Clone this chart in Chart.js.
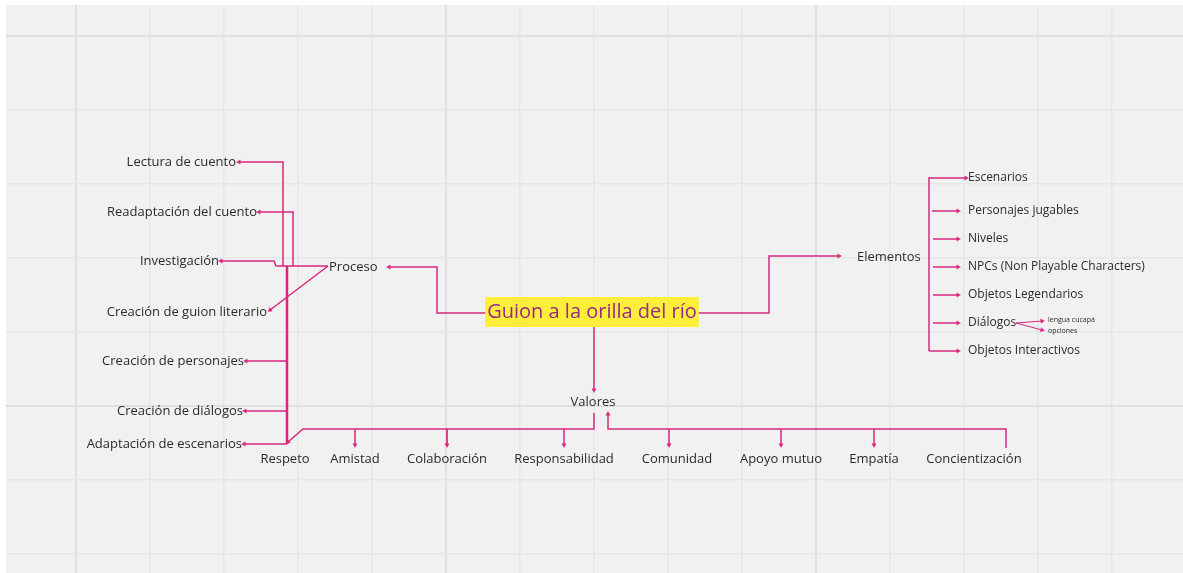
<!DOCTYPE html>
<html>
<head>
<meta charset="utf-8">
<script src="https://cdn.jsdelivr.net/npm/chart.js@4.4.1/dist/chart.umd.min.js"></script>
<style>
  html, body { margin: 0; padding: 0; background: #ffffff; }
  canvas { display: block; }
</style>
</head>
<body>
<canvas id="mapa" width="1183" height="573"></canvas>
<script>
// nodo central
const titulo = 'Guion a la orilla del río';
const tituloPos = [592, 312];

// ramas principales
const ramas = ['Proceso', 'Elementos', 'Valores'];
const ramasX = [329, 857, 593];
const ramasY = [267, 257, 402];
const ramasAlign = ['left', 'left', 'center'];

// Proceso (texto alineado a la derecha)
const procesoItems = ['Lectura de cuento', 'Readaptación del cuento', 'Investigación', 'Creación de guion literario', 'Creación de personajes', 'Creación de diálogos', 'Adaptación de escenarios'];
const procesoX = [236, 257, 219, 267, 244, 243, 242];
const procesoY = [162, 212, 261, 312, 361, 411, 444];

// Elementos
const elementosItems = ['Escenarios', 'Personajes jugables', 'Niveles', 'NPCs (Non Playable Characters)', 'Objetos Legendarios', 'Diálogos', 'Objetos Interactivos'];
const elementosX = 968;
const elementosY = [178, 211, 239, 267, 295, 323, 351];
const dialogosSub = ['lengua cucapá', 'opciones'];
const dialogosSubY = [320, 331];

// Valores
const valoresItems = ['Respeto', 'Amistad', 'Colaboración', 'Responsabilidad', 'Comunidad', 'Apoyo mutuo', 'Empatía', 'Concientización'];
const valoresX = [285, 355, 447, 564, 677, 781, 874, 974];
const valoresY = 459;

// conectores: [puntos, flecha al final, grosor]
const conectores = [
  [[[487, 313], [437, 313], [437, 267], [389, 267]], true, 1.5],
  [[[698, 313], [769, 313], [769, 256], [839, 256]], true, 1.5],
  [[[594, 327], [594, 390]], true, 1.5],
  // proceso
  [[[328, 266], [276, 266], [274, 261], [221, 261]], true, 1.5],
  [[[283, 266], [283, 162], [239, 162]], true, 1.5],
  [[[293, 266], [293, 212], [259, 212]], true, 1.5],
  [[[328, 266], [270, 310]], true, 1.5],
  [[[287, 266], [287, 444]], false, 2.5],
  [[[287, 361], [246, 361]], true, 1.5],
  [[[287, 411], [245, 411]], true, 1.5],
  [[[287, 444], [244, 444]], true, 1.5],
  // valores
  [[[594, 413], [594, 429], [303, 429], [288, 442]], true, 1.5],
  [[[355, 429], [355, 445]], true, 1.5],
  [[[447, 429], [447, 445]], true, 1],
  [[[564, 429], [564, 445]], true, 1.5],
  [[[1006, 448], [1006, 429], [608, 429], [608, 414]], true, 1.5],
  [[[669, 429], [669, 445]], true, 1.5],
  [[[781, 429], [781, 445]], true, 1.5],
  [[[874, 429], [874, 445]], true, 1.5],
  // elementos
  [[[929, 177], [929, 351]], false, 1.5],
  [[[929, 178], [966, 178]], true, 1.5],
  [[[932, 211], [958, 211]], true, 1.5],
  [[[933, 239], [958, 239]], true, 1.5],
  [[[933, 267], [958, 267]], true, 1.5],
  [[[933, 295], [958, 295]], true, 1.5],
  [[[933, 323], [958, 323]], true, 1.5],
  [[[929, 351], [958, 351]], true, 1.5],
  [[[1016, 323], [1042, 321]], true, 1],
  [[[1016, 323], [1042, 330]], true, 1]
];

// rejilla de fondo
const rejillaX = [76, 150, 224, 298, 372, 446, 520, 594, 668, 742, 816, 890, 964, 1038, 1112];
const rejillaY = [36, 110, 184, 258, 332, 406, 480, 554];
const rejillaMayorX = [76, 446, 816];
const rejillaMayorY = [36, 406];

const rosa = '#d6287f';
const fuente = '"Open Sans", "Noto Sans", sans-serif';

const datasets = conectores.map(c => ({
  type: 'line',
  data: c[0].map(p => ({ x: p[0], y: p[1] })),
  borderColor: rosa,
  borderWidth: c[2],
  pointRadius: 0,
  fill: false,
  tension: 0
}));

// puntas de flecha
const flechas = [];
const giros = [];
conectores.forEach(c => {
  if (!c[1]) return;
  const pts = c[0];
  const a = pts[pts.length - 2], b = pts[pts.length - 1];
  flechas.push({ x: b[0], y: b[1] });
  giros.push(Math.atan2(b[1] - a[1], b[0] - a[0]) * 180 / Math.PI + 90);
});
datasets.push({
  type: 'scatter',
  data: flechas,
  pointStyle: 'triangle',
  pointRadius: 2.4,
  rotation: giros,
  backgroundColor: rosa,
  borderColor: rosa,
  borderWidth: 0.5
});

const fondo = {
  id: 'fondo',
  beforeDraw(chart) {
    const ctx = chart.ctx;
    ctx.save();
    ctx.fillStyle = '#ffffff';
    ctx.fillRect(0, 0, chart.width, chart.height);
    ctx.fillStyle = '#f1f1f1';
    ctx.fillRect(6, 5, chart.width - 6, chart.height - 5);
    ctx.restore();
  }
};

const textos = {
  id: 'textos',
  afterDatasetsDraw(chart) {
    const ctx = chart.ctx;
    const sx = chart.scales.x, sy = chart.scales.y;
    const px = v => sx.getPixelForValue(v);
    const py = v => sy.getPixelForValue(v);
    ctx.save();
    ctx.textBaseline = 'middle';

    // nodo central
    ctx.font = '20px ' + fuente;
    const w = ctx.measureText(titulo).width;
    ctx.fillStyle = '#fdee3a';
    ctx.fillRect(px(tituloPos[0]) - w / 2 - 2, py(tituloPos[1]) - 15, w + 4, 30);
    ctx.fillStyle = '#942b86';
    ctx.textAlign = 'center';
    ctx.fillText(titulo, px(tituloPos[0]), py(tituloPos[1]));

    ctx.fillStyle = '#2b2b2b';
    ctx.font = '13px ' + fuente;
    ramas.forEach((t, i) => {
      ctx.textAlign = ramasAlign[i];
      ctx.fillText(t, px(ramasX[i]), py(ramasY[i]));
    });

    ctx.textAlign = 'right';
    procesoItems.forEach((t, i) => ctx.fillText(t, px(procesoX[i]), py(procesoY[i])));

    ctx.textAlign = 'center';
    valoresItems.forEach((t, i) => ctx.fillText(t, px(valoresX[i]), py(valoresY)));

    ctx.font = '12px ' + fuente;
    ctx.textAlign = 'left';
    elementosItems.forEach((t, i) => ctx.fillText(t, px(elementosX), py(elementosY[i])));

    ctx.font = '7px ' + fuente;
    dialogosSub.forEach((t, i) => ctx.fillText(t, px(1048), py(dialogosSubY[i])));
    ctx.restore();
  }
};

const rejilla = (lista, mayores) => ({
  display: true,
  ticks: { display: false },
  border: { display: false },
  grid: {
    drawTicks: false,
    color: c => mayores.includes(c.tick.value) ? '#e0e0e0' : '#e7e7e7',
    lineWidth: c => mayores.includes(c.tick.value) ? 2 : 1.5
  },
  afterBuildTicks: s => { s.ticks = lista.map(v => ({ value: v })); }
});

new Chart(document.getElementById('mapa'), {
  type: 'scatter',
  data: { datasets: datasets },
  options: {
    responsive: false,
    animation: false,
    layout: { padding: { left: 6, top: 5, right: 0, bottom: 0 }, autoPadding: false },
    plugins: { legend: { display: false }, tooltip: { enabled: false } },
    scales: {
      x: Object.assign({ type: 'linear', min: 6, max: 1183 }, rejilla(rejillaX, rejillaMayorX)),
      y: Object.assign({ type: 'linear', min: 5, max: 573, reverse: true }, rejilla(rejillaY, rejillaMayorY))
    }
  },
  plugins: [fondo, textos]
});
</script>
</body>
</html>
